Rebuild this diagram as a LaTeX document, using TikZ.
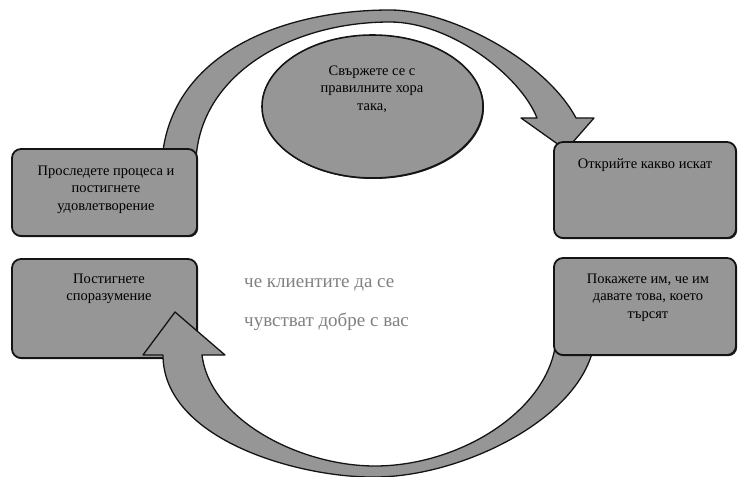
\documentclass[tikz,border=0pt]{standalone}
\usepackage{fontspec}
\setmainfont{Liberation Serif}
\usetikzlibrary{shapes.geometric,shadows}
\definecolor{fillg}{RGB}{150,150,150}
\definecolor{edgeg}{RGB}{20,20,20}
\definecolor{txtg}{RGB}{128,128,128}
\begin{document}
\begin{tikzpicture}[x=1pt,y=-1pt,
  box/.style={draw=edgeg, line width=1.8pt, fill=fillg, rounded corners=9pt,
    inner sep=0pt, drop shadow={shadow xshift=1.2pt, shadow yshift=-1.2pt, fill=black, opacity=0.85}},
  oval/.style={ellipse, draw=edgeg, line width=1.6pt, fill=fillg, inner sep=0pt,
    drop shadow={shadow xshift=1pt, shadow yshift=-1pt, fill=black, opacity=0.85}},
  barrow/.style={draw=edgeg, line width=1.3pt, fill=fillg, line join=round},
  btxt/.style={inner sep=0pt, anchor=north, align=center, text=black,
    font=\fontsize{14.5}{17.5}\selectfont},
  ctxt/.style={inner sep=0pt, anchor=north west, align=left, text=txtg,
    font=\fontsize{19}{39}\selectfont}
]
\useasboundingbox (0,0) rectangle (738,476);

% bottom-left box (under the lower arrow head)
\node[box, minimum width=185pt, minimum height=99pt] (lb) at (104.5,308.5) {};

% upper circular arrow
\coordinate (ta) at (162,160);
\coordinate (tp) at (390,10);
\coordinate (tb) at (576,118);
\coordinate (tc) at (537,118);
\coordinate (tq) at (390,22);
\coordinate (td) at (196,160);
\filldraw[barrow] (ta) .. controls (170,55) and (280,10) .. (tp)
  .. controls (450,10) and (545,60) .. (tb)
  -- (594,118) -- (566,150) -- (521,118) -- (tc)
  .. controls (520,75) and (450,22) .. (tq)
  .. controls (290,22) and (200,75) .. (td)
  -- cycle;

% lower circular arrow
\coordinate (ba) at (594,345);
\coordinate (bp) at (375,477);
\coordinate (bb) at (163,355);
\coordinate (bc) at (202,355);
\coordinate (bq) at (375,466);
\coordinate (bd) at (556,340);
\filldraw[barrow] (ba) .. controls (580,420) and (460,477) .. (bp)
  .. controls (300,478) and (163,440) .. (bb)
  -- (143,355) -- (175,312) -- (225,355) -- (bc)
  .. controls (210,420) and (300,466) .. (bq)
  .. controls (460,466) and (550,410) .. (bd)
  -- cycle;

% other boxes
\node[box, minimum width=185pt, minimum height=87pt] (lt) at (104.5,192.5) {};
\node[box, minimum width=182pt, minimum height=96pt] (rt) at (645,190) {};
\node[box, minimum width=182pt, minimum height=97pt] (rb) at (645,306.5) {};
\node[oval, minimum width=221pt, minimum height=143pt] (el) at (372.5,106.5) {};

% texts
\node[btxt] (elt) at (372,63) {\strut Свържете се с\\правилните хора\\така,};
\node[btxt] (ltt) at (106,163) {\strut Проследете процеса и\\постигнете\\удовлетворение};
\node[btxt] (lbt) at (109,271) {\strut Постигнете\\споразумение};
\node[btxt] (rtt) at (645,156) {\strut Открийте какво искат};
\node[btxt] (rbt) at (648,271) {\strut Покажете им, че им\\давате това, което\\търсят};
\node[ctxt] (ct) at (244,260) {\strut че клиентите да се\\чувстват добре с вас};
\end{tikzpicture}
\end{document}
